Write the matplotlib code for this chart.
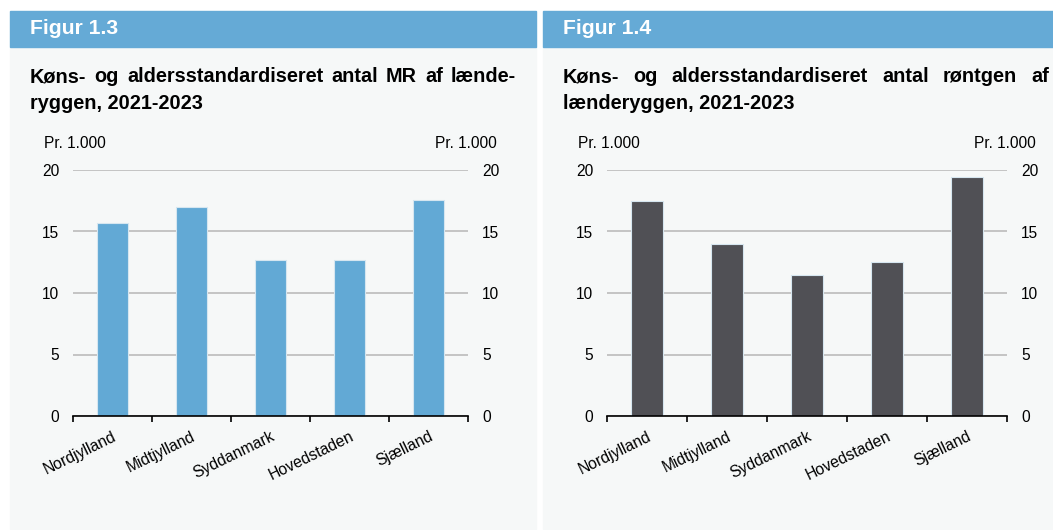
import matplotlib
matplotlib.use("Agg")
import matplotlib.pyplot as plt
from matplotlib.patches import Rectangle

plt.rcParams['font.family'] = ['Liberation Sans', 'DejaVu Sans']

regions = ["Nordjylland", "Midtjylland", "Syddanmark", "Hovedstaden", "Sjælland"]
mr_values = [15.7, 17.0, 12.7, 12.7, 17.6]
xray_values = [17.5, 14.0, 11.45, 12.5, 19.45]
y_ticks = [0, 5, 10, 15, 20]
unit_label = "Pr. 1.000"

fig_titles = ["Figur 1.3", "Figur 1.4"]
chart_titles = [
    ["Køns- og aldersstandardiseret antal MR af lænde-", "ryggen, 2021-2023"],
    ["Køns- og aldersstandardiseret antal røntgen af", "lænderyggen, 2021-2023"],
]

W, H = 1053, 530
fig = plt.figure(figsize=(W / 100, H / 100), dpi=100)
fig.patch.set_facecolor("white")

HEADER = "#65AAD6"
PANEL = "#F6F8F8"
GRID = "#C0C0C0"
BAR_COLORS = ["#62A9D5", "#505055"]
TITLE_SIZE = 14.3


def fx(px):
    return px / W


def fy(py):
    return 1 - py / H


def panel(x0, x1, label):
    fig.patches.append(Rectangle((fx(x0), fy(529)), fx(x1 - x0), (529 - 47) / H,
                                 transform=fig.transFigure, color=PANEL, zorder=-10))
    fig.patches.append(Rectangle((fx(x0), fy(47)), fx(x1 - x0), 36 / H,
                                 transform=fig.transFigure, color=HEADER, zorder=-10))
    fig.text(fx(x0 + 20), fy(29), label, color="white", fontsize=15.2,
             fontweight="bold", va="center", ha="left")


renderer = fig.canvas.get_renderer()


def justified_line(words, x0, x1, y):
    texts = [fig.text(0, fy(y), w, fontsize=TITLE_SIZE, fontweight="bold",
                      va="center", ha="left") for w in words]
    widths = [t.get_window_extent(renderer).width for t in texts]
    gap = (x1 - x0 - sum(widths)) / (len(words) - 1)
    x = x0
    for t, w in zip(texts, widths):
        t.set_x(fx(x))
        x += w + gap


def chart(ax_px, values, color, title_lines, px0, px1):
    left, right = ax_px
    ax = fig.add_axes([fx(left), fy(416), fx(right - left), (416 - 170) / H])
    ax.set_facecolor("none")
    xs = range(len(regions))
    ax.bar(xs, values, width=0.4, color=color, edgecolor="#D6E6F0",
           linewidth=0.8, zorder=3)
    ax.set_xlim(-0.5, len(regions) - 0.5)
    ax.set_ylim(0, 20)
    ax.set_yticks(y_ticks)
    ax.yaxis.grid(True, color=GRID, linewidth=1.3, zorder=0)
    ax.set_axisbelow(True)
    for s in ["top", "right", "left"]:
        ax.spines[s].set_visible(False)
    ax.spines["bottom"].set_color("black")
    ax.spines["bottom"].set_linewidth(1.2)
    ax.spines["bottom"].set_zorder(4)
    ax.tick_params(axis="y", length=0, labelsize=11.2, pad=10)
    # category boundaries carry the tick marks, names sit at the centres
    ax.set_xticks([i - 0.5 for i in range(len(regions) + 1)])
    ax.set_xticklabels([])
    ax.tick_params(axis="x", which="major", direction="out", length=4,
                   width=1.2, color="black")
    ax.set_xticks(list(xs), minor=True)
    ax.set_xticklabels(regions, minor=True, rotation=26, ha="right",
                       rotation_mode="anchor", fontsize=11.3)
    ax.tick_params(axis="x", which="minor", length=0, pad=9)

    ax2 = ax.twinx()
    ax2.set_ylim(0, 20)
    ax2.set_yticks(y_ticks)
    for s in ax2.spines.values():
        s.set_visible(False)
    ax2.tick_params(axis="y", length=0, labelsize=11.2, pad=10)

    fig.text(fx(left - 29), fy(143), unit_label, fontsize=11.2,
             ha="left", va="center")
    fig.text(fx(right + 29), fy(143), unit_label, fontsize=11.2,
             ha="right", va="center")

    justified_line(title_lines[0].split(), px0 + 20, px1, 77)
    fig.text(fx(px0 + 20), fy(103), title_lines[1], fontsize=TITLE_SIZE,
             fontweight="bold", va="center", ha="left")


panel(10, 536, fig_titles[0])
panel(543, 1053, fig_titles[1])

chart((73, 468), mr_values, BAR_COLORS[0], chart_titles[0], 10, 516)
chart((607, 1007), xray_values, BAR_COLORS[1], chart_titles[1], 543, 1049)

fig.savefig("out.png", dpi=100)
